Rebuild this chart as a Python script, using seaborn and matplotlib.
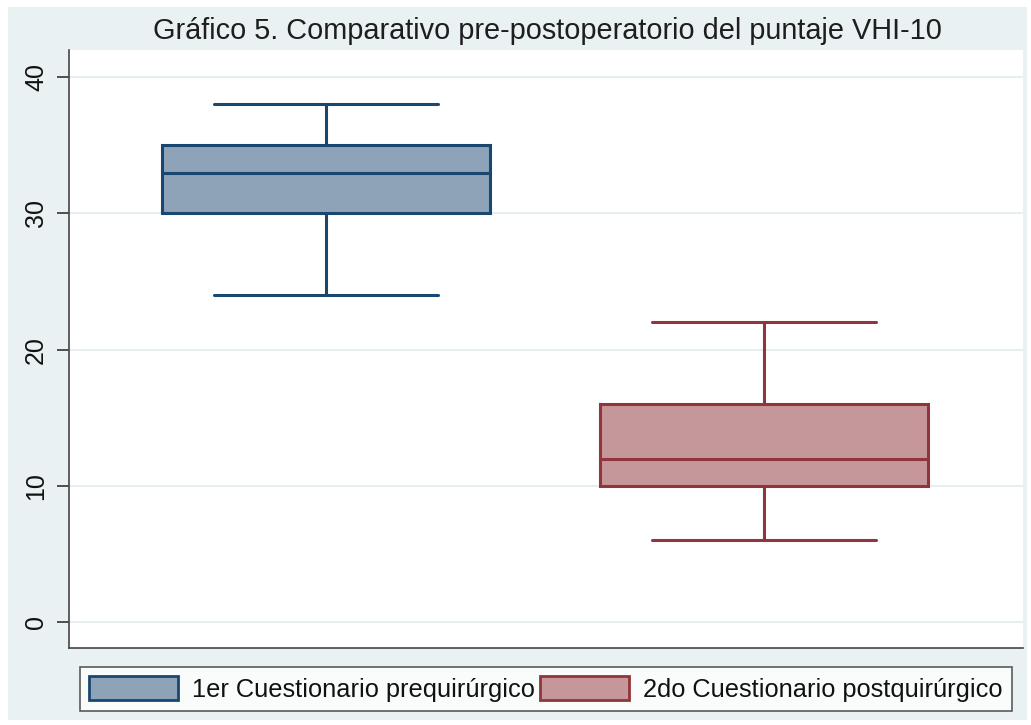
"""Comparativo pre-postoperatorio del puntaje VHI-10 (box plot)."""

import pandas as pd
import matplotlib
matplotlib.use('Agg')
import matplotlib.pyplot as plt
import seaborn as sns
from matplotlib.patches import Patch, Rectangle

# summary values: min, Q1, median, Q3, max
pre_scores = [24, 30, 33, 35, 38]
post_scores = [6, 10, 12, 16, 22]
groups = ['1er Cuestionario prequirúrgico', '2do Cuestionario postquirúrgico']
y_ticks = [0, 10, 20, 30, 40]

fill_colors = ['#8ea3b7', '#c6979a']
edge_colors = ['#1a476f', '#90353b']
bg_color = '#eaf1f3'

sns.set_theme(style='white')
plt.rcParams['font.family'] = ['Liberation Sans', 'DejaVu Sans']

df = pd.DataFrame({
    'grupo': [groups[0]] * len(pre_scores) + [groups[1]] * len(post_scores),
    'puntaje': pre_scores + post_scores,
})

fig = plt.figure(figsize=(10.31, 7.25), dpi=100, facecolor='white')
fig.patches.append(Rectangle((8 / 1031, 5 / 725), 1019 / 1031, 713 / 725,
                             transform=fig.transFigure, facecolor=bg_color,
                             edgecolor='none', zorder=-10))
ax = fig.add_axes([69 / 1031, 1 - 648 / 725, 954 / 1031, 598 / 725])
ax.set_facecolor('white')

sns.boxplot(data=df, x='grupo', y='puntaje', hue='grupo', order=groups,
            palette=fill_colors, width=0.75, whis=1.5, linewidth=2.2,
            showfliers=False, legend=False, ax=ax)

# Stata-like edge colours and wider caps
for i, patch in enumerate(ax.patches):
    patch.set_edgecolor(edge_colors[i])
    patch.set_facecolor(fill_colors[i])
for j, line in enumerate(ax.lines):
    grp = j // 5 if len(ax.lines) == 10 else j // 6
    line.set_color(edge_colors[min(grp, 1)])
    line.set_linewidth(2.2)
for line in ax.lines:
    xd = line.get_xdata()
    yd = line.get_ydata()
    if len(xd) == 2 and yd[0] == yd[1] and abs(xd[1] - xd[0]) < 0.5:
        c = (xd[0] + xd[1]) / 2
        line.set_xdata([c - 0.255, c + 0.255])

ax.set_xlim(-0.587, 1.591)
ax.set_ylim(-1.9, 42)
ax.set_yticks(y_ticks)
ax.set_yticklabels([str(t) for t in y_ticks], rotation=90, va='center', fontsize=18,
                   color='#111111')
ax.set_xticks([])
ax.set_xlabel('')
ax.set_ylabel('')
ax.tick_params(axis='y', left=True, length=9, width=1.2, color='#333333', pad=6)
ax.grid(axis='y', color='#e6eef1', linewidth=1.5)
ax.set_axisbelow(True)
for side in ['top', 'right']:
    ax.spines[side].set_visible(False)
for side in ['left', 'bottom']:
    ax.spines[side].set_color('#444444')
    ax.spines[side].set_linewidth(1.2)

fig.text(547 / 1031, 1 - 31 / 725, 'Gráfico 5. Comparativo pre-postoperatorio del puntaje VHI-10',
         ha='center', va='center', fontsize=20.8, color='#1e1e1e')

handles = [Patch(facecolor=fill_colors[i], edgecolor=edge_colors[i], linewidth=2) for i in range(2)]
leg = fig.legend(handles, groups, loc='center', bbox_to_anchor=(546 / 1031, 1 - 689 / 725),
                 ncol=2, frameon=True, fancybox=False, fontsize=18.3, handlelength=3.5,
                 handleheight=1.05, columnspacing=0.2, handletextpad=0.55, borderpad=0.38,
                 borderaxespad=0)
leg.get_frame().set_edgecolor('#333333')
leg.get_frame().set_linewidth(1.2)
for t in leg.get_texts():
    t.set_color('#111111')

fig.savefig('out.png', dpi=100, facecolor='white')
